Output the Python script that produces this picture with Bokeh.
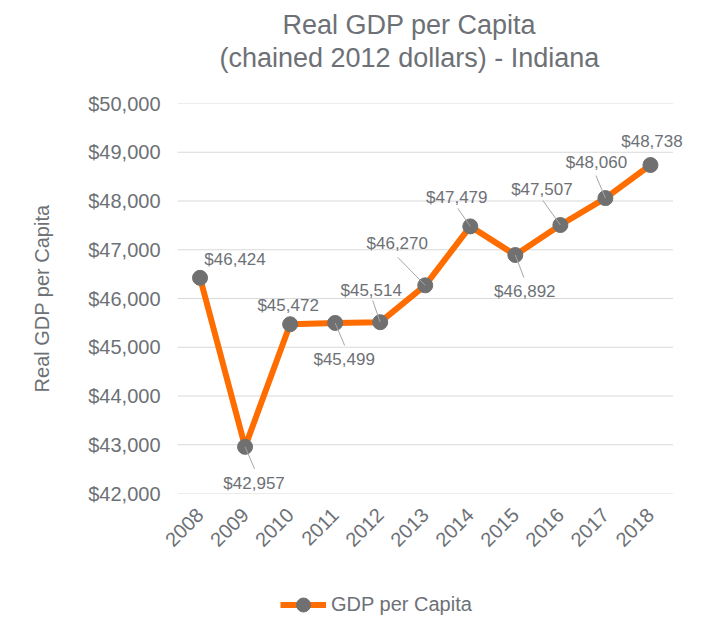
import math
from bokeh.plotting import figure
from bokeh.layouts import column
from bokeh.models import (ColumnDataSource, FixedTicker, NumeralTickFormatter,
                          Legend, LegendItem, Range1d, Title)
from bokeh.embed import file_html
from bokeh.resources import INLINE
from bokeh.core.properties import value

# ---- data ----
years = ["2008", "2009", "2010", "2011", "2012", "2013", "2014", "2015", "2016", "2017", "2018"]
gdp = [46424, 42957, 45472, 45499, 45514, 46270, 47479, 46892, 47507, 48060, 48738]
y_ticks = [42000, 43000, 44000, 45000, 46000, 47000, 48000, 49000, 50000]
series_name = "GDP per Capita"
title_1 = "Real GDP per Capita"
title_2 = "(chained 2012 dollars) - Indiana"

# ---- label placement (screen px offsets, style only) ----
lab_dx = [35, 9, -2, 9, -9, -28, -13.5, 9.5, -18.5, -9, 1.5]
lab_dy = [-18, 37, -19, 37, -32, -42, -29, 36, -36, -36, -23.5]
lead_dx = [None, 9.5, None, 9.5, -7.5, -27.5, -12.5, 8.5, -17.5, -9.5, None]
lead_dy = [None, 22, None, 22.6, -21.7, -28, -18, 22.5, -24.5, -22.5, None]

FONT = "Liberation Sans"
TXT = "#6d7176"
ORANGE = "#ff6d00"
GRAY = "#707070"

LEFT = 177
PX_PER_CAT = 45
FH = 390
EXTRA_RIGHT = 0.3   # extra frame room so the last label is not clipped
xs = list(range(len(years)))
x0, x1 = -0.5, len(years) - 0.5
xr1 = x1 + EXTRA_RIGHT
FW = int(round(PX_PER_CAT * (xr1 - x0)))
y0, y1 = y_ticks[0], y_ticks[-1]
px_x = FW / (xr1 - x0)
px_y = FH / (y1 - y0)

p = figure(frame_width=FW, frame_height=FH, output_backend="svg", toolbar_location=None,
           x_range=Range1d(x0, xr1), y_range=Range1d(y0, y1), title=None,
           min_border_left=LEFT, min_border_right=693 - LEFT - FW, min_border_top=103,
           min_border_bottom=68)
p.outline_line_color = None
p.background_fill_color = "white"
p.border_fill_color = "white"

title_style = dict(align="left", text_font=FONT, text_font_size="27px",
                   text_font_style="normal", text_color=TXT)
spacer = Title(text=" ", text_font_size="1px", standoff=26)
t2 = Title(text=title_2, standoff=3, offset=42, **title_style)
t1 = Title(text=title_1, standoff=0, offset=105, **title_style)
p.add_layout(spacer, "above")
p.add_layout(t2, "above")
p.add_layout(t1, "above")

# axes
p.yaxis.ticker = FixedTicker(ticks=y_ticks)
p.yaxis.formatter = NumeralTickFormatter(format="$0,0")
p.yaxis.axis_label = "Real GDP per Capita"
p.yaxis.axis_label_text_font = FONT
p.yaxis.axis_label_text_font_size = "20px"
p.yaxis.axis_label_text_font_style = "normal"
p.yaxis.axis_label_text_color = TXT
p.yaxis.axis_label_standoff = 32
p.yaxis.major_label_standoff = 17

p.xaxis.ticker = FixedTicker(ticks=xs)
p.xaxis.major_label_overrides = {i: y for i, y in enumerate(years)}
p.xaxis.major_label_orientation = math.pi / 4
p.xaxis.major_label_standoff = 18

for ax in (p.xaxis[0], p.yaxis[0]):
    ax.axis_line_color = None
    ax.major_tick_line_color = None
    ax.minor_tick_line_color = None
    ax.major_tick_out = 0
    ax.major_tick_in = 0
    ax.major_label_text_font = FONT
    ax.major_label_text_color = TXT
p.yaxis.major_label_text_font_size = "20px"
p.xaxis.major_label_text_font_size = "20px"

# horizontal grid lines drawn only over the category span
p.xgrid.visible = False
p.ygrid.visible = False
p.segment(x0=[x0] * len(y_ticks), y0=y_ticks, x1=[x1] * len(y_ticks), y1=y_ticks,
          line_color="#d9d9d9", line_width=1)

src = ColumnDataSource(dict(x=xs, y=gdp,
                            lab=["${:,}".format(v) for v in gdp],
                            dx=lab_dx, dy=lab_dy))

line_style = dict(line_color=ORANGE, line_width=6, line_join="round")
mark_style = dict(size=15, fill_color=GRAY, line_color=GRAY)
p.line("x", "y", source=src, **line_style)
p.scatter("x", "y", source=src, **mark_style)

# leader lines
sx0, sy0, sx1, sy1 = [], [], [], []
for i, (v, dx, dy) in enumerate(zip(gdp, lead_dx, lead_dy)):
    if dx is None:
        continue
    sx0.append(xs[i]); sy0.append(v)
    sx1.append(xs[i] + dx / px_x); sy1.append(v - dy / px_y)
p.segment(sx0, sy0, sx1, sy1, line_color="#a6a6a6", line_width=1)

p.text("x", "y", text="lab", source=src, x_offset="dx", y_offset="dy",
       text_font=value(FONT), text_font_size="17px", text_color=TXT,
       text_align="center", text_baseline="middle")

# legend in its own strip below the chart (dummy glyphs outside the visible range)
lg = figure(width=693, height=62, output_backend="svg", toolbar_location=None,
            x_range=Range1d(0, 1), y_range=Range1d(0, 1), min_border=0)
lg.axis.visible = False
lg.grid.visible = False
lg.outline_line_color = None
lr = lg.line([-5, -4], [-5, -4], **line_style)
ls = lg.scatter([-5], [-5], **mark_style)
legend = Legend(items=[LegendItem(label=series_name, renderers=[lr, ls])],
                location=(103, 1), orientation="horizontal",
                glyph_width=46, glyph_height=35, label_standoff=5,
                label_text_font=FONT, label_text_font_size="20px", label_text_color=TXT,
                border_line_color=None, background_fill_alpha=0, padding=0, margin=0)
lg.add_layout(legend)

open("out.html", "w").write(file_html(column(p, lg), INLINE))
